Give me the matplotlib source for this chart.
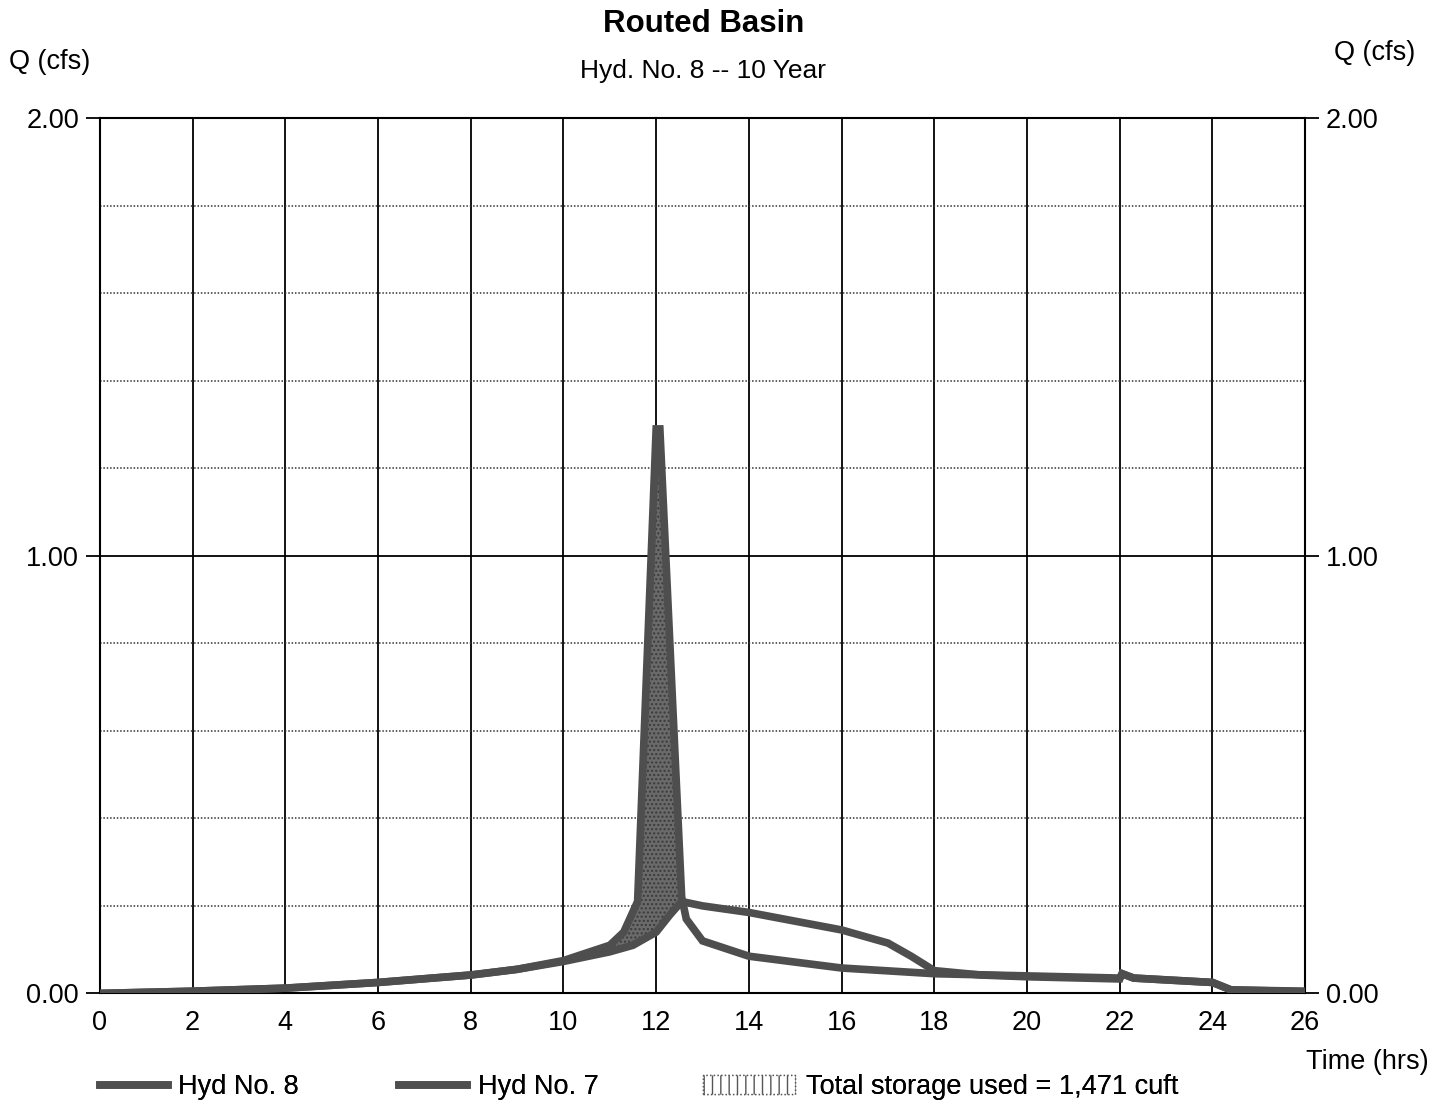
import numpy as np
import matplotlib
matplotlib.use("Agg")
import matplotlib.pyplot as plt
from matplotlib.lines import Line2D
from matplotlib.patches import Patch

plt.rcParams['font.family'] = ['Liberation Sans', 'DejaVu Sans']

# Hyd No. 7 - inflow hydrograph (hrs, cfs)
hyd7_t = [0, 2, 4, 6, 8, 9, 10, 11, 11.3, 11.6, 12.0, 12.08, 12.55, 12.65, 13.0,
          14, 16, 18, 20, 22, 22.05, 22.3, 24, 24.4, 26]
hyd7_q = [0.0, 0.005, 0.012, 0.025, 0.042, 0.055, 0.075, 0.11, 0.14, 0.21, 1.29, 1.29,
          0.22, 0.17, 0.12, 0.085, 0.058, 0.045, 0.04, 0.035, 0.045, 0.035, 0.025, 0.008, 0.005]

# Hyd No. 8 - routed outflow (hrs, cfs)
hyd8_t = [0, 2, 4, 6, 8, 9, 10, 11, 11.5, 12.0, 12.3, 12.55, 13, 14, 15, 16, 17, 17.5,
          18, 19, 20, 22, 22.05, 22.3, 24, 24.4, 26]
hyd8_q = [0.0, 0.005, 0.012, 0.025, 0.042, 0.055, 0.073, 0.095, 0.11, 0.14, 0.18, 0.21,
          0.2, 0.185, 0.165, 0.145, 0.115, 0.085, 0.052, 0.042, 0.038, 0.033, 0.045, 0.035,
          0.025, 0.008, 0.004]

x_ticks = list(range(0, 27, 2))
y_major = [0.0, 1.0, 2.0]
y_minor = [0.2, 0.4, 0.6, 0.8, 1.2, 1.4, 1.6, 1.8]
storage_cuft = "1,471"

line_col = '#4e4e4e'
fs = 19.5

fig = plt.figure(figsize=(14.47, 11.05), dpi=100)
ax = fig.add_axes([0.069, 0.101, 0.833, 0.792])

# storage area between inflow and outflow
t_all = np.union1d(hyd7_t, hyd8_t)
q7 = np.interp(t_all, hyd7_t, hyd7_q)
q8 = np.interp(t_all, hyd8_t, hyd8_q)
ax.fill_between(t_all, q8, q7, where=q7 > q8, interpolate=True,
                facecolor='#6a6a6a', edgecolor='#3a3a3a', hatch='....', linewidth=0, zorder=2)

ax.plot(hyd7_t, hyd7_q, color=line_col, lw=5.5, solid_joinstyle='miter', zorder=3)
ax.plot(hyd8_t, hyd8_q, color=line_col, lw=5.5, solid_joinstyle='miter', zorder=3)

# grid
for x in x_ticks:
    ax.axvline(x, color='black', lw=1.3, zorder=1)
ax.axhline(1.0, color='black', lw=1.3, zorder=1)
for y in y_minor:
    ax.axhline(y, color='#333333', lw=1.1, ls=(0, (1, 1.2)), zorder=1)

ax.set_xlim(0, 26)
ax.set_ylim(0, 2)
ax.set_xticks(x_ticks)
ax.set_xticklabels([str(x) for x in x_ticks])
ax.set_yticks(y_major)
ax.set_yticklabels([f"{y:.2f}" for y in y_major])
ax.tick_params(axis='x', length=0, pad=12, labelsize=fs)
ax.tick_params(axis='y', length=10, width=1.3, pad=5, labelsize=fs,
               left=True, right=True, labelleft=True, labelright=True)
for s in ax.spines.values():
    s.set_linewidth(1.5)

fig.text(0.486, 0.978, "Routed Basin", ha='center', va='center', fontsize=22.5, fontweight='bold')
fig.text(0.486, 0.936, "Hyd. No. 8 -- 10 Year", ha='center', va='center', fontsize=19)
fig.text(0.034, 0.944, "Q (cfs)", ha='center', va='center', fontsize=fs)
fig.text(0.950, 0.952, "Q (cfs)", ha='center', va='center', fontsize=fs)
fig.text(0.945, 0.039, "Time (hrs)", ha='center', va='center', fontsize=fs)

# legend entries, placed separately like the original printout
leg_items = [
    (Line2D([], [], color=line_col, lw=5.5), "Hyd No. 8", 0.069, 2.5),
    (Line2D([], [], color=line_col, lw=5.5), "Hyd No. 7", 0.276, 2.5),
    (Patch(facecolor='white', edgecolor='#555555', hatch='||', lw=1, ls=':'),
     f"Total storage used = {storage_cuft} cuft", 0.486, 3.4),
]
for h, lab, x0, hl in leg_items:
    leg = fig.legend([h], [lab], loc='center left', bbox_to_anchor=(x0, 0.016),
                     frameon=False, fontsize=fs, handlelength=hl, handletextpad=0.4,
                     borderpad=0, borderaxespad=0)
    fig.add_artist(leg)

fig.savefig("out.png", dpi=100)
